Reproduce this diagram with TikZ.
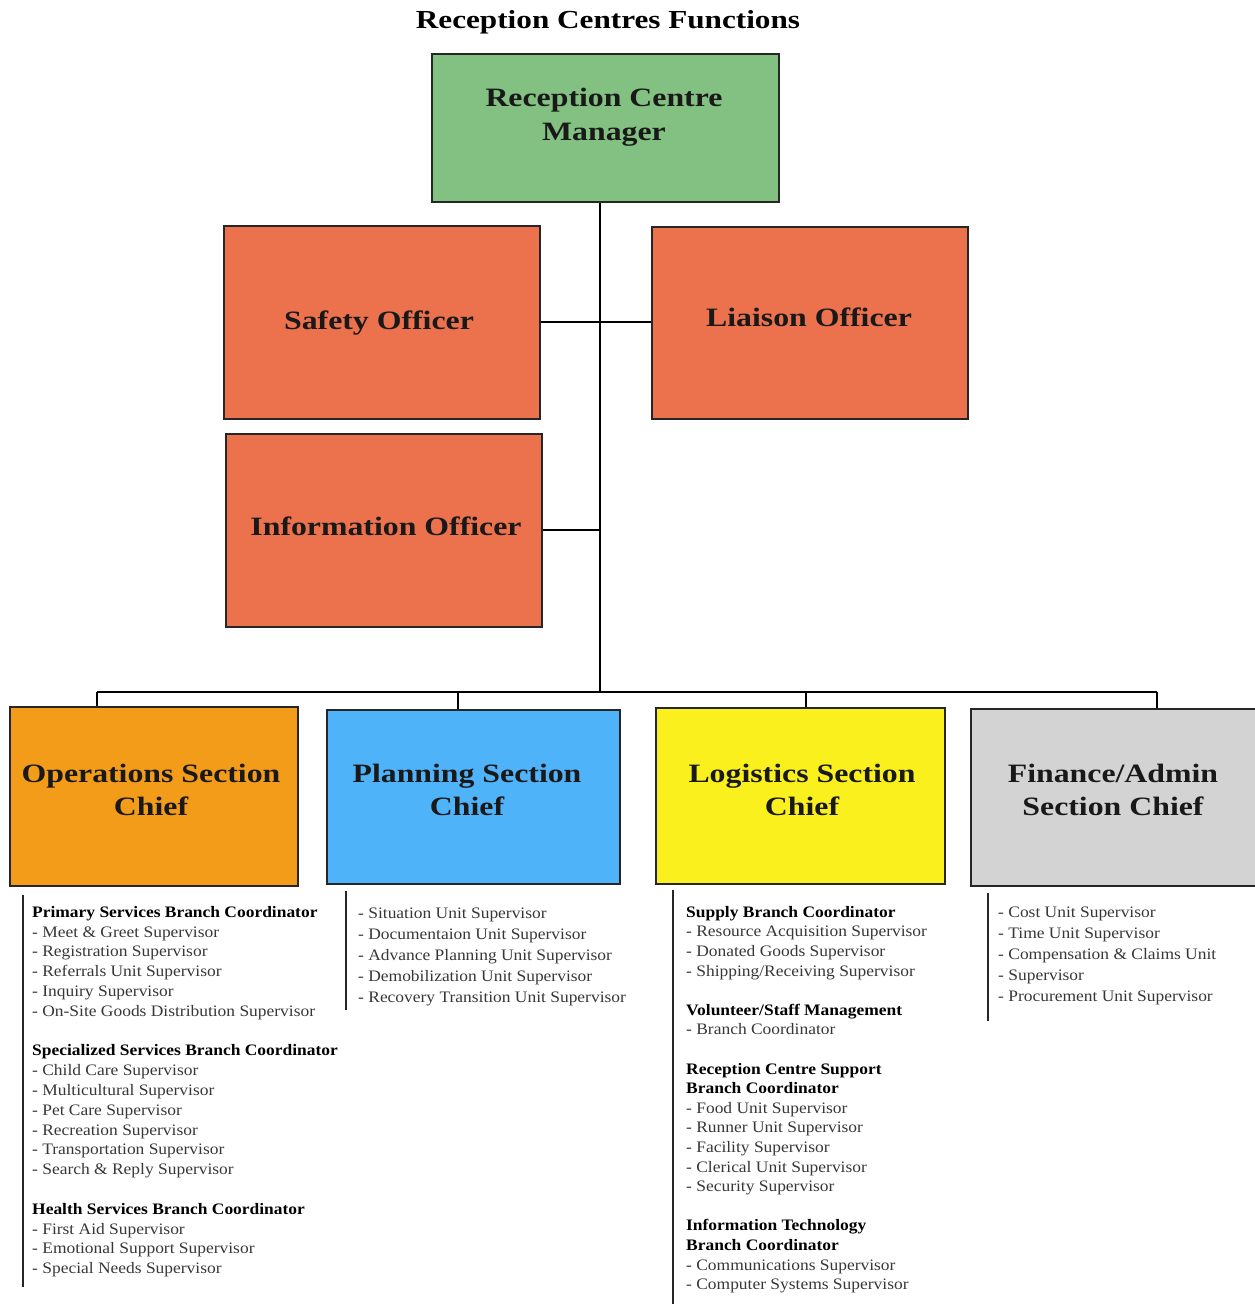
\documentclass[tikz,border=0pt]{standalone}
\usepackage{fontspec}
\setmainfont{Liberation Serif}
\newfontfamily\boxfont[FakeStretch=1.2]{Liberation Serif}
\newfontfamily\listfont[FakeStretch=1.09]{Liberation Serif}
\definecolor{mgrgreen}{RGB}{130,193,130}
\definecolor{offred}{RGB}{236,113,77}
\definecolor{opsorange}{RGB}{243,156,26}
\definecolor{planblue}{RGB}{79,179,249}
\definecolor{logyellow}{RGB}{250,240,30}
\definecolor{fingray}{RGB}{211,211,211}
\definecolor{itemgray}{RGB}{55,55,55}
\begin{document}
\begin{tikzpicture}[x=1pt,y=-1pt,
  box/.style={draw=black!85,line width=1.6pt,inner sep=0pt,anchor=north west},
  boxtext/.style={font=\boxfont\bfseries\fontsize{26.5}{33.5}\selectfont,align=center,text=black!90,inner sep=0pt},
  conn/.style={draw=black,line width=1.8pt},
  rule/.style={draw=black!85,line width=1.8pt},
  lst/.style={font=\listfont\fontsize{16}{19.8}\selectfont,align=left,anchor=north west,inner sep=0pt,text=itemgray}
]
\useasboundingbox (0,0) rectangle (1255,1304);

\node[font=\boxfont\bfseries\fontsize{26}{30}\selectfont,inner sep=0pt] (title) at (608,22) {Reception Centres Functions};

% boxes
\node[box,fill=mgrgreen,minimum width=347pt,minimum height=148pt] (mgr) at (431,53) {};
\node[boxtext] (mgrT) at (604,117) {Reception Centre\\Manager};

\node[box,fill=offred,minimum width=316pt,minimum height=193pt] (safety) at (223,225) {};
\node[boxtext] (safetyT) at (379,323) {Safety Officer};

\node[box,fill=offred,minimum width=316pt,minimum height=192pt] (liaison) at (651,226) {};
\node[boxtext] (liaisonT) at (809,317) {Liaison Officer};

\node[box,fill=offred,minimum width=316pt,minimum height=193pt] (info) at (225,433) {};
\node[boxtext] (infoT) at (386,526) {Information Officer};

\node[box,fill=opsorange,minimum width=288pt,minimum height=179pt] (ops) at (9,706) {};
\node[boxtext] (opsT) at (151,790) {Operations Section\\Chief};

\node[box,fill=planblue,minimum width=293pt,minimum height=174pt] (plan) at (326,709) {};
\node[boxtext] (planT) at (467,790) {Planning Section\\Chief};

\node[box,fill=logyellow,minimum width=289pt,minimum height=176pt] (log) at (655,707) {};
\node[boxtext] (logT) at (802,790) {Logistics Section\\Chief};

\node[box,fill=fingray,minimum width=286pt,minimum height=177pt] (fin) at (970,708) {};
\node[boxtext] (finT) at (1113,790) {Finance/Admin\\Section Chief};

% connectors
\coordinate (bus) at (600,692);
\coordinate (d1) at (97,692);
\coordinate (d2) at (458,692);
\coordinate (d3) at (806,692);
\coordinate (d4) at (1157,692);
\draw[conn] (bus |- mgr.south) -- (bus);
\draw[conn] (safety.east) -- (safety.east -| liaison.west);
\draw[conn] (info.east) -- (info.east -| bus);
\draw[conn] (d1) -- (d4);
\draw[conn] (d1) -- (d1 |- ops.north);
\draw[conn] (d2) -- (d2 |- plan.north);
\draw[conn] (d3) -- (d3 |- log.north);
\draw[conn] (d4) -- (d4 |- fin.north);

% lists
\node[lst] (opsL) at (32,906) {\textcolor{black}{\bfseries Primary Services Branch Coordinator}\\
- Meet \& Greet Supervisor\\
- Registration Supervisor\\
- Referrals Unit Supervisor\\
- Inquiry Supervisor\\
- On-Site Goods Distribution Supervisor\\[19.8pt]
\textcolor{black}{\bfseries Specialized Services Branch Coordinator}\\
- Child Care Supervisor\\
- Multicultural Supervisor\\
- Pet Care Supervisor\\
- Recreation Supervisor\\
- Transportation Supervisor\\
- Search \& Reply Supervisor\\[19.8pt]
\textcolor{black}{\bfseries Health Services Branch Coordinator}\\
- First Aid Supervisor\\
- Emotional Support Supervisor\\
- Special Needs Supervisor};
\draw[rule] (23,895) -- (23,1287);

\node[lst,font=\listfont\fontsize{16}{20.8}\selectfont] (planL) at (358,908) {- Situation Unit Supervisor\\
- Documentaion Unit Supervisor\\
- Advance Planning Unit Supervisor\\
- Demobilization Unit Supervisor\\
- Recovery Transition Unit Supervisor};
\draw[rule] (346,891) -- (346,1010);

\node[lst,font=\listfont\fontsize{16}{19.6}\selectfont] (logL) at (686,906) {\textcolor{black}{\bfseries Supply Branch Coordinator}\\
- Resource Acquisition Supervisor\\
- Donated Goods Supervisor\\
- Shipping/Receiving Supervisor\\[19.6pt]
\textcolor{black}{\bfseries Volunteer/Staff Management}\\
- Branch Coordinator\\[19.6pt]
\textcolor{black}{\bfseries Reception Centre Support}\\
\textcolor{black}{\bfseries Branch Coordinator}\\
- Food Unit Supervisor\\
- Runner Unit Supervisor\\
- Facility Supervisor\\
- Clerical Unit Supervisor\\
- Security Supervisor\\[19.6pt]
\textcolor{black}{\bfseries Information Technology}\\
\textcolor{black}{\bfseries Branch Coordinator}\\
- Communications Supervisor\\
- Computer Systems Supervisor};
\draw[rule] (673,890) -- (673,1304);

\node[lst,font=\listfont\fontsize{16}{21}\selectfont] (finL) at (998,907) {- Cost Unit Supervisor\\
- Time Unit Supervisor\\
- Compensation \& Claims Unit\\
- Supervisor\\
- Procurement Unit Supervisor};
\draw[rule] (988,893) -- (988,1021);
\end{tikzpicture}
\end{document}
